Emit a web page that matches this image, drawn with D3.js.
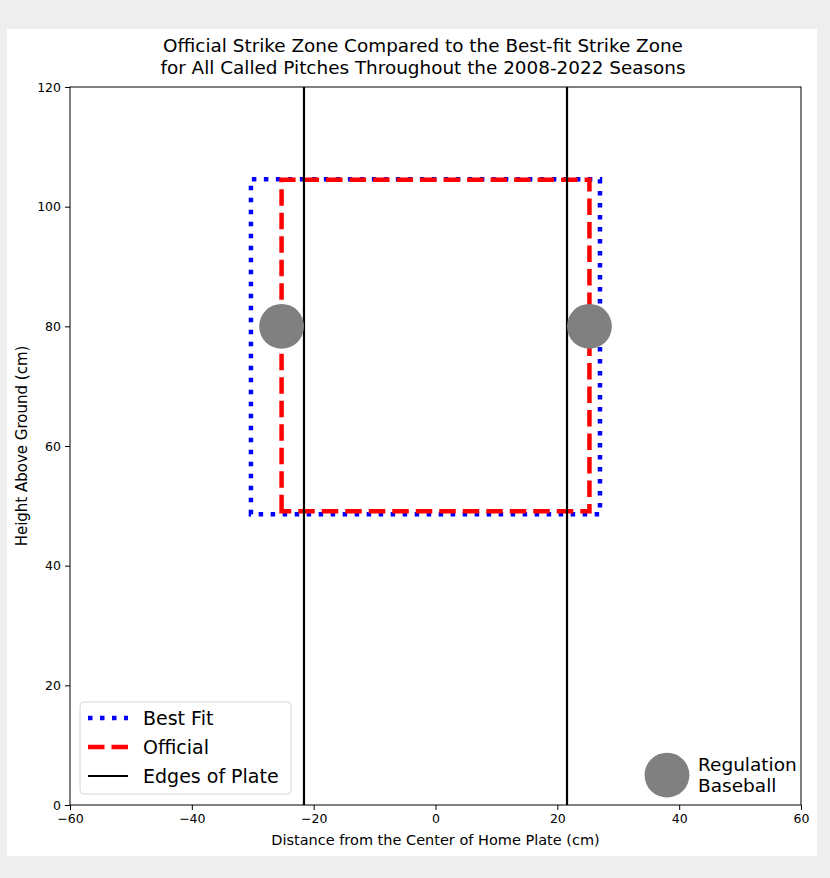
<!DOCTYPE html>
<html>
<head>
<meta charset="utf-8">
<script src="https://cdn.jsdelivr.net/npm/d3@7"></script>
<style>
  html, body { margin: 0; padding: 0; background: #eeeeee; }
  svg { display: block; }
  text { font-family: "DejaVu Sans", sans-serif; fill: #000; }
</style>
</head>
<body>
<svg id="chart" width="830" height="878"></svg>
<script>
// Strike zone rectangles (cm): [left, right, bottom, top]
const bestFitZone = [-30.3, 27.0, 48.6, 104.6];
const officialZone = [-25.27, 25.27, 49.1, 104.5];
// Home plate edges (cm)
const plateEdges = [-21.59, 21.59];
// Baseballs drawn at the zone's side edges, plus one as a size key
const baseballs = [{ x: -25.27, y: 80 }, { x: 25.27, y: 80 }];
const baseballKey = { x: 38, y: 5 };
const baseballRadius = 3.68;
const xTicks = [-60, -40, -20, 0, 20, 40, 60];
const yTicks = [0, 20, 40, 60, 80, 100, 120];
const legendItems = ["Best Fit", "Official", "Edges of Plate"];

const svg = d3.select("#chart");

// figure background
svg.append("rect").attr("x", 7).attr("y", 29).attr("width", 810).attr("height", 827).attr("fill", "#fff");

const plot = { left: 70, right: 801, top: 87, bottom: 805 };
const x = d3.scaleLinear().domain([-60, 60]).range([plot.left, plot.right]);
const y = d3.scaleLinear().domain([0, 120]).range([plot.bottom, plot.top]);

const fmt = d => d < 0 ? "\u2212" + Math.abs(d) : String(d);

// clip
svg.append("clipPath").attr("id", "clip").append("rect")
  .attr("x", plot.left).attr("y", plot.top)
  .attr("width", plot.right - plot.left).attr("height", plot.bottom - plot.top);

const g = svg.append("g").attr("clip-path", "url(#clip)");

function zonePath(z) {
  const [l, r, b, t] = z;
  return `M${x(l)},${y(b)}L${x(l)},${y(t)}L${x(r)},${y(t)}L${x(r)},${y(b)}Z`;
}

// best fit zone (dotted blue)
g.append("path").attr("d", zonePath(bestFitZone))
  .attr("fill", "none").attr("stroke", "#0000ff").attr("stroke-width", 4.5)
  .attr("stroke-dasharray", "4.5,7.5");

// official zone (dashed red)
g.append("path").attr("d", zonePath(officialZone))
  .attr("fill", "none").attr("stroke", "#ff0000").attr("stroke-width", 4.5)
  .attr("stroke-dasharray", "16.5,7");

// plate edges
g.selectAll("line.plate").data(plateEdges).enter().append("line")
  .attr("class", "plate")
  .attr("x1", d => x(d)).attr("x2", d => x(d))
  .attr("y1", y(0)).attr("y2", y(120))
  .attr("stroke", "#000").attr("stroke-width", 2.2);

// baseballs
const rPx = x(baseballRadius) - x(0);
g.selectAll("circle.ball").data(baseballs.concat([baseballKey])).enter().append("circle")
  .attr("class", "ball")
  .attr("cx", d => x(d.x)).attr("cy", d => y(d.y)).attr("r", rPx)
  .attr("fill", "#808080");

// axes frame
svg.append("rect").attr("x", plot.left).attr("y", plot.top)
  .attr("width", plot.right - plot.left).attr("height", plot.bottom - plot.top)
  .attr("fill", "none").attr("stroke", "#000").attr("stroke-width", 1);

const xAxis = svg.append("g").attr("transform", `translate(0,${plot.bottom})`)
  .call(d3.axisBottom(x).tickValues(xTicks).tickFormat(fmt).tickSize(5).tickPadding(4));
const yAxis = svg.append("g").attr("transform", `translate(${plot.left},0)`)
  .call(d3.axisLeft(y).tickValues(yTicks).tickFormat(fmt).tickSize(5).tickPadding(4));
[xAxis, yAxis].forEach(a => {
  a.select(".domain").remove();
  a.selectAll("text").style("font-size", "12.5px").style("font-family", "DejaVu Sans, sans-serif");
  a.selectAll("line").attr("stroke", "#000");
});

// title
const title = svg.append("text").attr("text-anchor", "middle").style("font-size", "18.4px");
title.append("tspan").attr("x", 423).attr("y", 52).text("Official Strike Zone Compared to the Best-fit Strike Zone");
title.append("tspan").attr("x", 423).attr("y", 74).text("for All Called Pitches Throughout the 2008-2022 Seasons");

// axis labels
svg.append("text").attr("x", (plot.left + plot.right) / 2).attr("y", 845)
  .attr("text-anchor", "middle").style("font-size", "14.5px")
  .text("Distance from the Center of Home Plate (cm)");
svg.append("text").attr("transform", `translate(27,${(plot.top + plot.bottom) / 2}) rotate(-90)`)
  .attr("text-anchor", "middle").style("font-size", "15px")
  .text("Height Above Ground (cm)");

// legend
const leg = svg.append("g");
leg.append("rect").attr("x", 80).attr("y", 702).attr("width", 211).attr("height", 92)
  .attr("rx", 4).attr("fill", "#fff").attr("fill-opacity", 0.8)
  .attr("stroke", "#d6d6d6").attr("stroke-width", 1);
const legStyles = [
  { stroke: "#0000ff", w: 4.5, dash: "4.5,7.5" },
  { stroke: "#ff0000", w: 4.5, dash: "16.5,7" },
  { stroke: "#000", w: 2.2, dash: null }
];
const legY = [718, 747, 776];
legendItems.forEach((name, i) => {
  const s = legStyles[i];
  const ln = leg.append("line").attr("x1", 88).attr("x2", 128)
    .attr("y1", legY[i]).attr("y2", legY[i])
    .attr("stroke", s.stroke).attr("stroke-width", s.w);
  if (s.dash) ln.attr("stroke-dasharray", s.dash);
  leg.append("text").attr("x", 143).attr("y", legY[i] + 7).style("font-size", "19px").text(name);
});

// baseball key label
const kl = svg.append("text").style("font-size", "18.5px");
kl.append("tspan").attr("x", 698).attr("y", 771).text("Regulation");
kl.append("tspan").attr("x", 698).attr("y", 792).text("Baseball");
</script>
</body>
</html>
